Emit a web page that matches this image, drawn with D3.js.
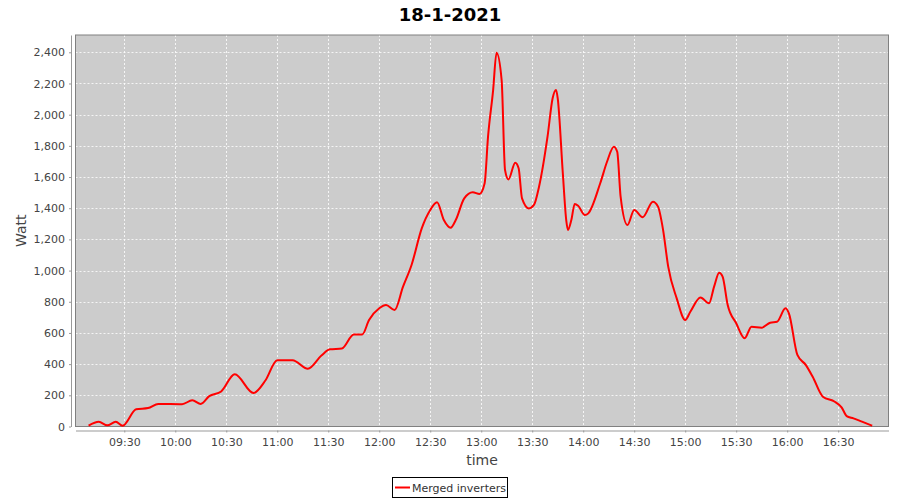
<!DOCTYPE html>
<html>
<head>
<meta charset="utf-8">
<title>18-1-2021</title>
<style>
  body { margin: 0; background: #fff; }
  text { font-family: "DejaVu Sans", sans-serif; }
  .tick text { fill: #444; font-size: 11px; }
</style>
</head>
<body>
<script src="https://cdn.jsdelivr.net/npm/d3@7"></script>
<script>

// data (time of day, watt)
var times = ["09:09","09:15","09:20","09:25","09:29","09:37","09:44","09:50","10:04","10:10",
             "10:15","10:20","10:27","10:35","10:46","10:53","11:00","11:09","11:18","11:26",
             "11:31","11:38","11:45","11:50","11:54","12:00","12:04","12:09","12:14","12:19",
             "12:25","12:30","12:34","12:38","12:42","12:45","12:50","12:55","12:59","13:02",
             "13:04","13:07","13:09","13:12","13:14","13:16","13:20","13:22","13:24","13:28",
             "13:31","13:34","13:39","13:42","13:44","13:45","13:48","13:50","13:51","13:53",
             "13:55","13:57","14:01","14:03","14:10","14:14","14:18","14:20","14:22","14:26",
             "14:30","14:35","14:41","14:44","14:47","14:50","14:55","15:00","15:03","15:09",
             "15:14","15:17","15:20","15:22","15:25","15:30","15:35","15:39","15:45","15:50",
             "15:54","15:59","16:01","16:06","16:11","16:15","16:21","16:28","16:32","16:35",
             "16:39","16:44","16:50"];
var watts = [5,30,8,30,5,110,118,145,143,168,
             145,195,225,335,215,295,425,425,370,455,
             495,500,590,590,683,758,779,747,897,1036,
             1271,1389,1438,1324,1275,1324,1463,1502,1491,1560,
             1859,2158,2397,2222,1645,1585,1692,1656,1463,1399,
             1421,1538,1859,2105,2158,2105,1624,1324,1260,1324,
             1427,1416,1356,1367,1560,1698,1795,1762,1474,1292,
             1389,1342,1442,1410,1260,1025,822,683,736,828,
             790,897,986,961,779,662,566,640,634,666,
             672,758,726,459,394,319,191,159,123,67,
             52,31,5];

var xTicks = ["09:30","10:00","10:30","11:00","11:30","12:00","12:30","13:00",
              "13:30","14:00","14:30","15:00","15:30","16:00","16:30"];
var yTicks = [0,200,400,600,800,1000,1200,1400,1600,1800,2000,2200,2400];

var width = 900, height = 500;
var plot = { left: 75.5, right: 888.5, top: 35, bottom: 426.5 };

var parseTime = d3.timeParse("%H:%M:%S");
var fmt = d3.timeFormat("%H:%M");

var data = times.map(function(t, i) {
  return { time: parseTime(t + ":00"), watt: watts[i] };
});

var x = d3.scaleTime()
    .domain([parseTime("09:01:18"), parseTime("16:59:36")])
    .range([plot.left, plot.right]);

var y = d3.scaleLinear()
    .domain([0, 2511])
    .range([plot.bottom, plot.top]);

var svg = d3.select("body").append("svg")
    .attr("width", width)
    .attr("height", height);

svg.append("rect")
    .attr("width", width).attr("height", height)
    .attr("fill", "#fff");

// title
svg.append("text")
    .attr("x", 450).attr("y", 21)
    .attr("text-anchor", "middle")
    .style("font-size", "18px")
    .style("font-weight", "bold")
    .attr("fill", "#000")
    .text("18-1-2021");

// plot background
svg.append("rect")
    .attr("x", plot.left).attr("y", plot.top)
    .attr("width", plot.right - plot.left)
    .attr("height", plot.bottom - plot.top)
    .attr("fill", "#cccccc");

// grid lines
svg.append("g")
  .selectAll("line")
  .data(yTicks.filter(function(d) { return d > 0; }))
  .join("line")
    .attr("x1", plot.left).attr("x2", plot.right)
    .attr("y1", function(d) { return Math.round(y(d)) + 0.5; })
    .attr("y2", function(d) { return Math.round(y(d)) + 0.5; })
    .attr("stroke", "#fff")
    .attr("stroke-width", 0.8)
    .attr("stroke-dasharray", "2,2");

svg.append("g")
  .selectAll("line")
  .data(xTicks)
  .join("line")
    .attr("x1", function(d) { return Math.round(x(parseTime(d + ":00"))) + 0.5; })
    .attr("x2", function(d) { return Math.round(x(parseTime(d + ":00"))) + 0.5; })
    .attr("y1", plot.top).attr("y2", plot.bottom)
    .attr("stroke", "#fff")
    .attr("stroke-width", 0.8)
    .attr("stroke-dasharray", "2,2");

// plot border
svg.append("rect")
    .attr("x", plot.left).attr("y", plot.top)
    .attr("width", plot.right - plot.left)
    .attr("height", plot.bottom - plot.top)
    .attr("fill", "none")
    .attr("stroke", "#808080")
    .attr("stroke-width", 1);

// line
var line = d3.line()
    .x(function(d) { return x(d.time); })
    .y(function(d) { return y(d.watt); })
    .curve(d3.curveMonotoneX);

svg.append("path")
    .datum(data)
    .attr("fill", "none")
    .attr("stroke", "#ff0000")
    .attr("stroke-width", 2)
    .attr("stroke-linejoin", "round")
    .attr("d", line);

// axes
var xAxis = svg.append("g")
    .attr("transform", "translate(0," + (plot.bottom + 4) + ")")
    .call(d3.axisBottom(x)
      .tickValues(xTicks.map(function(t) { return parseTime(t + ":00"); }))
      .tickFormat(fmt)
      .tickSize(2).tickPadding(4)
      .tickSizeOuter(0));
xAxis.select(".domain").attr("stroke", "#999");
xAxis.selectAll(".tick line").attr("stroke", "#999");
xAxis.selectAll(".tick text").attr("dy", "0.9em");

var yAxis = svg.append("g")
    .attr("transform", "translate(" + (plot.left - 4.5) + ",0)")
    .call(d3.axisLeft(y)
      .tickValues(yTicks)
      .tickFormat(d3.format(","))
      .tickSize(2).tickPadding(4)
      .tickSizeOuter(0));
yAxis.select(".domain").attr("stroke", "#999");
yAxis.selectAll(".tick line").attr("stroke", "#999");

// axis labels
svg.append("text")
    .attr("x", (plot.left + plot.right) / 2)
    .attr("y", 465)
    .attr("text-anchor", "middle")
    .attr("fill", "#444")
    .style("font-size", "14px")
    .text("time");

svg.append("text")
    .attr("transform", "translate(26," + ((plot.top + plot.bottom) / 2) + ") rotate(-90)")
    .attr("text-anchor", "middle")
    .attr("fill", "#444")
    .style("font-size", "14px")
    .text("Watt");

// legend
var legend = svg.append("g");
legend.append("rect")
    .attr("x", 392.5).attr("y", 477.5)
    .attr("width", 115).attr("height", 20)
    .attr("fill", "#fff")
    .attr("stroke", "#000")
    .attr("stroke-width", 1);
legend.append("line")
    .attr("x1", 395).attr("x2", 410)
    .attr("y1", 487.5).attr("y2", 487.5)
    .attr("stroke", "#ff0000")
    .attr("stroke-width", 2);
legend.append("text")
    .attr("x", 412).attr("y", 491.5)
    .attr("fill", "#333")
    .style("font-size", "11px")
    .text("Merged inverters");

</script>
</body>
</html>
